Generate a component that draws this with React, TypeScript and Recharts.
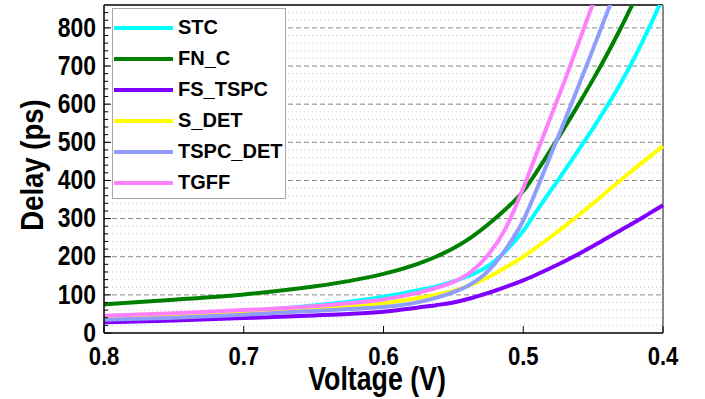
import { LineChart, Line, XAxis, YAxis, ReferenceLine } from 'recharts'

const voltage = [0.8, 0.75, 0.7, 0.65, 0.625, 0.6, 0.575, 0.5625, 0.55, 0.5375, 0.525, 0.5125, 0.5, 0.49, 0.48, 0.47, 0.46, 0.45, 0.44, 0.43, 0.42, 0.41, 0.4]

const stc = [40, 46, 56, 72, 82, 95, 112, 122, 135, 152, 176, 215, 268, 322, 375, 428, 482, 537, 595, 657, 725, 800, 880]
const fnC = [75, 87, 101, 122, 136, 155, 182, 200, 222, 250, 285, 325, 372, 425, 482, 541, 602, 665, 731, 801, 876, null, null]
const fsTspc = [28, 33, 39, 46, 50, 56, 67, 73, 80, 91, 105, 121, 138, 154, 171, 189, 208, 228, 249, 270, 291, 313, 335]
const sDet = [40, 47, 55, 64, 70, 78, 92, 100, 110, 126, 147, 172, 200, 226, 253, 281, 310, 340, 371, 402, 432, 461, 490]
const tspcDet = [35, 40, 48, 58, 63, 68, 81, 92, 107, 128, 163, 220, 295, 380, 470, 560, 652, 745, 840, 935, null, null, null]
const tgff = [45, 52, 60, 70, 78, 88, 106, 118, 134, 160, 205, 275, 380, 475, 570, 665, 765, 865, null, null, null, null, null]

const xTicks = [0.8, 0.7, 0.6, 0.5, 0.4]
const yTicks = [0, 20, 40, 60, 80, 100, 120, 140, 160, 180, 200, 220, 240, 260, 280, 300, 320, 340, 360, 380, 400, 420, 440, 460, 480, 500, 520, 540, 560, 580, 600, 620, 640, 660, 680, 700, 720, 740, 760, 780, 800, 820, 840]
const majorGrid = [100, 200, 300, 400, 500, 600, 700, 800]
const minorGrid = [20, 40, 60, 80, 120, 140, 160, 180, 220, 240, 260, 280, 320, 340, 360, 380, 420, 440, 460, 480, 520, 540, 560, 580, 620, 640, 660, 680, 720, 740, 760, 780, 820, 840]

const series = [
  { key: 'STC', values: stc, color: '#00ffff' },
  { key: 'FN_C', values: fnC, color: '#008000' },
  { key: 'FS_TSPC', values: fsTspc, color: '#8000ff' },
  { key: 'S_DET', values: sDet, color: '#ffff00' },
  { key: 'TSPC_DET', values: tspcDet, color: '#8f9dff' },
  { key: 'TGFF', values: tgff, color: '#ff80ff' },
]

const data = voltage.map((v, i) => {
  const row: Record<string, number | null> = { v }
  series.forEach((s) => (row[s.key] = s.values[i]))
  return row
})

// no narrow font installed, so Liberation Sans Bold gets squeezed with scaleX
const SANS = '"Liberation Sans", Arial, sans-serif'

function YTick({ x, y, payload }: any) {
  const major = payload.value % 100 === 0
  return (
    <g>
      <line x1={x + 8} x2={x + 8 + (major ? 7 : 4)} y1={y} y2={y} stroke="#000" strokeWidth={1} />
      {major && (
        <text
          transform={`translate(${x},${y - 1}) scale(0.85,1)`}
          textAnchor="end"
          dominantBaseline="central"
          fontFamily={SANS}
          fontWeight="bold"
          fontSize={27}
          fill="#000"
        >
          {payload.value}
        </text>
      )}
    </g>
  )
}

function XTick({ x, y, payload }: any) {
  return (
    <g>
      <line x1={x} x2={x} y1={y - 8} y2={y - 15} stroke="#000" strokeWidth={1} />
      <text
        transform={`translate(${x},${y + 15}) scale(0.85,1)`}
        textAnchor="middle"
        dominantBaseline="central"
        fontFamily={SANS}
        fontWeight="bold"
        fontSize={26}
        fill="#000"
      >
        {payload.value.toFixed(1)}
      </text>
    </g>
  )
}

function XTitle() {
  return (
    <text
      transform="translate(377,378) scale(0.81,1)"
      textAnchor="middle"
      dominantBaseline="central"
      fontFamily={SANS}
      fontWeight="bold"
      fontSize={33}
      fill="#000"
    >
      Voltage (V)
    </text>
  )
}

function YTitle() {
  return (
    <text
      transform="translate(32,165) rotate(-90) scale(0.86,1)"
      textAnchor="middle"
      dominantBaseline="central"
      fontFamily={SANS}
      fontWeight="bold"
      fontSize={32}
      fill="#000"
    >
      Delay (ps)
    </text>
  )
}

function LegendBox() {
  return (
    <div
      style={{
        position: 'absolute',
        left: 112,
        top: 8,
        width: 174,
        height: 191,
        border: '1px solid #a8a8a8',
        background: '#fff',
        boxSizing: 'border-box',
        paddingTop: 3,
      }}
    >
      {series.map((s) => (
        <div key={s.key} style={{ display: 'flex', alignItems: 'center', height: 31 }}>
          <span style={{ display: 'inline-block', width: 59, height: 4, marginLeft: 1, background: s.color }} />
          <span style={{ marginLeft: 5, fontFamily: SANS, fontWeight: 'bold', fontSize: 20, color: '#000' }}>{s.key}</span>
        </div>
      ))}
    </div>
  )
}

export default function App() {
  return (
    <div style={{ position: 'absolute', left: 0, top: 0, width: 705, height: 399, background: '#fff' }}>
      <LineChart width={705} height={399} data={data} margin={{ top: 5, right: 42, bottom: 0, left: 0 }}>
        {minorGrid.map((g) => (
          <ReferenceLine key={'m' + g} y={g} stroke="#c8c8c8" strokeDasharray="1 3" />
        ))}
        {majorGrid.map((g) => (
          <ReferenceLine key={'M' + g} y={g} stroke="#888" strokeDasharray="5 3" />
        ))}
        <XAxis
          dataKey="v"
          type="number"
          domain={[0.4, 0.8]}
          reversed
          ticks={xTicks}
          interval={0}
          tick={<XTick />}
          tickLine={false}
          axisLine={{ stroke: '#000', strokeWidth: 1.5 }}
          height={66}
          label={<XTitle />}
        />
        <YAxis
          type="number"
          domain={[0, 860]}
          allowDataOverflow
          ticks={yTicks}
          interval={0}
          tick={<YTick />}
          tickLine={false}
          tickSize={0}
          tickMargin={8}
          axisLine={{ stroke: '#000', strokeWidth: 1.5 }}
          width={104}
          label={<YTitle />}
        />
        <ReferenceLine y={860} stroke="#000" strokeWidth={1.5} />
        <ReferenceLine x={0.4} stroke="#888" strokeWidth={2} />
        {series.map((s) => (
          <Line
            key={s.key}
            dataKey={s.key}
            type="monotone"
            stroke={s.color}
            strokeWidth={4}
            dot={false}
            isAnimationActive={false}
          />
        ))}
      </LineChart>
      <LegendBox />
    </div>
  )
}
